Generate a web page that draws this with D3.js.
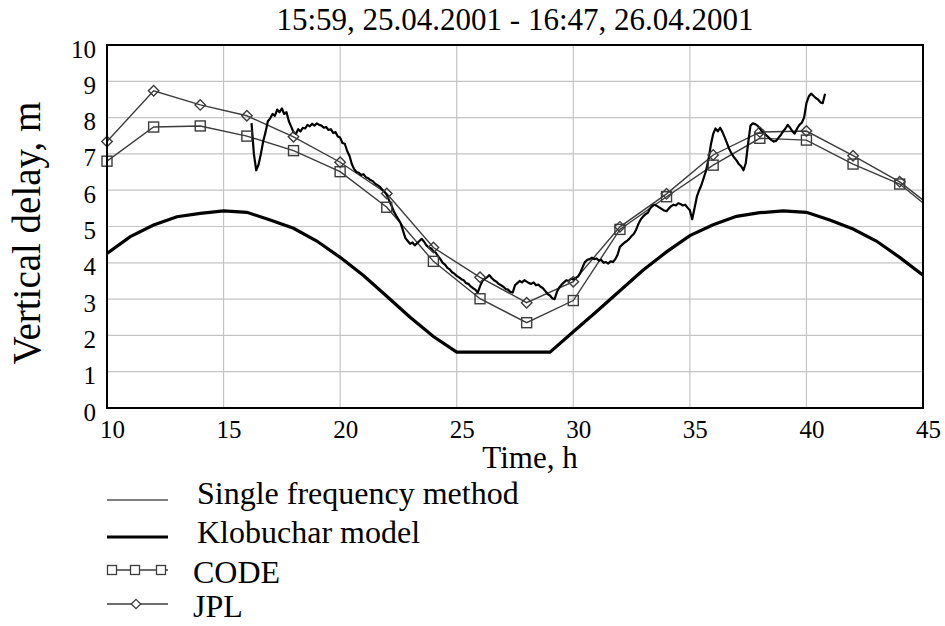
<!DOCTYPE html>
<html>
<head>
<meta charset="utf-8">
<script src="https://cdn.jsdelivr.net/npm/d3@7"></script>
<style>
  body { margin: 0; background: #fff; }
</style>
</head>
<body>
<div id="chart"></div>
<script>
const FONT = "'Liberation Serif', 'Times New Roman', Times, serif";
const margin = { top: 45, right: 22, bottom: 218, left: 107 };
const W = 945, H = 626;

const titleText = "15:59, 25.04.2001 - 16:47, 26.04.2001";
const xTicks = [10, 15, 20, 25, 30, 35, 40, 45];
const yTicks = [0, 1, 2, 3, 4, 5, 6, 7, 8, 9, 10];

// Klobuchar model, hourly
const kloTime = [10, 11, 12, 13, 14, 15, 16, 17, 18, 19, 20, 21, 22, 23, 24, 25, 26, 27,
  28, 29, 30, 31, 32, 33, 34, 35, 36, 37, 38, 39, 40, 41, 42, 43, 44, 45];
const kloDelay = [4.26, 4.72, 5.04, 5.27, 5.36, 5.43, 5.39, 5.18, 4.95, 4.6, 4.15, 3.65, 3.08, 2.5, 1.97, 1.54, 1.54, 1.54,
  1.54, 1.54, 2.1, 2.66, 3.23, 3.8, 4.3, 4.75, 5.05, 5.28, 5.38, 5.43, 5.39, 5.18, 4.93, 4.6, 4.15, 3.66];

// global maps, every 2 h
const gimTime = [10, 12, 14, 16, 18, 20, 22, 24, 26, 28, 30, 32, 34, 36, 38, 40, 42, 44, 46];
const codeDelay = [6.80, 7.74, 7.77, 7.49, 7.09, 6.51, 5.53, 4.04, 3.01, 2.35, 2.96, 4.92, 5.82, 6.69, 7.43, 7.38, 6.72, 6.17, 5.13];
const jplDelay = [7.34, 8.74, 8.35, 8.05, 7.47, 6.77, 5.91, 4.42, 3.6, 2.9, 3.48, 4.99, 5.9, 6.97, 7.6, 7.63, 6.95, 6.23, 5.23];

// single frequency method, sampled every 0.1 h from 16.2 h
const sfStart = 16.2, sfStep = 0.1;
const sfDelay = [
  7.85, 7.0, 6.55, 6.7, 7.0, 7.35, 7.6, 7.9, 7.98, 8.1,
  8.05, 8.22, 8.15, 8.25, 8.1, 8.15, 7.9, 7.75, 7.6, 7.55,
  7.68, 7.62, 7.72, 7.7, 7.8, 7.76, 7.83, 7.78, 7.84, 7.8,
  7.78, 7.72, 7.74, 7.66, 7.68, 7.58, 7.6, 7.48, 7.45, 7.3,
  7.28, 7.08, 6.95, 6.72, 6.58, 6.5, 6.48, 6.42, 6.44, 6.36,
  6.33, 6.28, 6.25, 6.18, 6.14, 6.1, 6.02, 5.96, 5.87, 5.72,
  5.58, 5.42, 5.3, 5.2, 5.08, 4.88, 4.68, 4.6, 4.52, 4.56,
  4.48, 4.54, 4.6, 4.66, 4.58, 4.48, 4.42, 4.4, 4.32, 4.28,
  4.18, 4.1, 4.0, 3.95, 3.86, 3.82, 3.74, 3.7, 3.64, 3.6,
  3.55, 3.52, 3.44, 3.42, 3.35, 3.3, 3.26, 3.18, 3.35, 3.5,
  3.56, 3.6, 3.66, 3.58, 3.52, 3.48, 3.42, 3.38, 3.34, 3.28,
  3.26, 3.2, 3.18, 3.38, 3.44, 3.5, 3.46, 3.52, 3.48, 3.44,
  3.42, 3.46, 3.38, 3.4, 3.34, 3.3, 3.22, 3.14, 3.1, 3.02,
  3.0, 3.2, 3.32, 3.4, 3.46, 3.52, 3.5, 3.56, 3.54, 3.58,
  3.62, 3.72, 3.88, 4.02, 4.08, 4.1, 4.14, 4.1, 4.12, 4.06,
  4.08, 4.0, 4.02, 3.98, 4.04, 4.02, 4.1, 4.22, 4.44, 4.5,
  4.56, 4.6, 4.66, 4.74, 4.8, 4.92, 5.08, 5.2, 5.28, 5.34,
  5.38, 5.5, 5.58, 5.6, 5.56, 5.52, 5.48, 5.44, 5.42, 5.5,
  5.56, 5.6, 5.58, 5.64, 5.62, 5.58, 5.6, 5.52, 5.45, 5.2,
  5.5, 5.82, 6.0, 6.15, 6.35, 6.55, 6.85, 7.25, 7.55, 7.7,
  7.62, 7.72, 7.6, 7.45, 7.28, 7.12, 7.0, 6.9, 6.82, 6.72,
  6.66, 6.55, 6.75, 7.3, 7.78, 7.84, 7.82, 7.78, 7.7, 7.62,
  7.56, 7.5, 7.44, 7.38, 7.34, 7.36, 7.44, 7.52, 7.62, 7.7,
  7.8, 7.72, 7.62, 7.56, 7.7, 7.8, 7.86, 8.0, 8.4, 8.58,
  8.66, 8.6, 8.54, 8.5, 8.42, 8.4, 8.66
];

const legendLabels = ["Single frequency method", "Klobuchar model", "CODE", "JPL"];

const width = W - margin.left - margin.right;   // 816
const height = H - margin.top - margin.bottom;  // 363

const svg = d3.select("#chart").append("svg")
  .attr("width", W)
  .attr("height", H)
  .attr("font-family", FONT)
  .style("display", "block");

svg.append("rect").attr("width", W).attr("height", H).attr("fill", "#fff");

const g = svg.append("g")
  .attr("transform", `translate(${margin.left},${margin.top})`);

const x = d3.scaleLinear().domain([10, 45]).range([0, width]);
const y = d3.scaleLinear().domain([0, 10]).range([height, 0]);

// grid
g.append("g")
  .selectAll("line")
  .data(xTicks.slice(1, -1))
  .join("line")
  .attr("x1", d => x(d)).attr("x2", d => x(d))
  .attr("y1", 0).attr("y2", height)
  .attr("stroke", "#c4c4c4").attr("stroke-width", 1.2);

g.append("g")
  .selectAll("line")
  .data(yTicks.slice(1, -1))
  .join("line")
  .attr("x1", 0).attr("x2", width)
  .attr("y1", d => y(d)).attr("y2", d => y(d))
  .attr("stroke", "#c4c4c4").attr("stroke-width", 1.2);

// axes (labels only)
const xAxis = g.append("g")
  .attr("transform", `translate(0,${height})`)
  .call(d3.axisBottom(x).tickValues(xTicks).tickSize(0).tickFormat(d3.format("d")))
  .attr("font-family", FONT);
xAxis.select(".domain").remove();
xAxis.selectAll("text")
  .attr("font-size", 25)
  .attr("fill", "#000")
  .attr("y", 30).attr("dy", 0).attr("dx", 5);

const yAxis = g.append("g")
  .call(d3.axisLeft(y).tickValues(yTicks).tickSize(0).tickFormat(d3.format("d")))
  .attr("font-family", FONT);
yAxis.select(".domain").remove();
yAxis.selectAll("text")
  .attr("font-size", 25)
  .attr("fill", "#000")
  .attr("x", -11).attr("dy", 0).attr("y", 12);

// clip
svg.append("defs").append("clipPath").attr("id", "plotClip")
  .append("rect").attr("width", width).attr("height", height);

const plot = g.append("g").attr("clip-path", "url(#plotClip)");

const line = d3.line().x(d => x(d[0])).y(d => y(d[1]));

const kloData = kloTime.map((t, i) => [t, kloDelay[i]]);
const codeData = gimTime.map((t, i) => [t, codeDelay[i]]);
const jplData = gimTime.map((t, i) => [t, jplDelay[i]]);
const sfData = sfDelay.map((v, i) => [sfStart + i * sfStep, v]);

plot.append("path").datum(kloData)
  .attr("d", line).attr("fill", "none")
  .attr("stroke", "#000").attr("stroke-width", 3.2);

plot.append("path").datum(codeData)
  .attr("d", line).attr("fill", "none")
  .attr("stroke", "#3c3c3c").attr("stroke-width", 1.4);

plot.append("path").datum(jplData)
  .attr("d", line).attr("fill", "none")
  .attr("stroke", "#3c3c3c").attr("stroke-width", 1.4);

plot.append("path").datum(sfData)
  .attr("d", line).attr("fill", "none")
  .attr("stroke", "#000").attr("stroke-width", 2.2)
  .attr("stroke-linejoin", "round");

// markers
const sq = 10;
g.append("g").selectAll("rect")
  .data(codeData.filter(d => d[0] <= 45))
  .join("rect")
  .attr("x", d => x(d[0]) - sq / 2)
  .attr("y", d => y(d[1]) - sq / 2)
  .attr("width", sq).attr("height", sq)
  .attr("fill", "none").attr("stroke", "#3c3c3c").attr("stroke-width", 1.4);

const diamond = d3.symbol().type(d3.symbolDiamond2).size(70);
g.append("g").selectAll("path")
  .data(jplData.filter(d => d[0] <= 45))
  .join("path")
  .attr("d", diamond)
  .attr("transform", d => `translate(${x(d[0])},${y(d[1])})`)
  .attr("fill", "none").attr("stroke", "#3c3c3c").attr("stroke-width", 1.4);

// frame
g.append("rect")
  .attr("width", width).attr("height", height)
  .attr("fill", "none").attr("stroke", "#000").attr("stroke-width", 2);

// title and axis labels
svg.append("text")
  .attr("x", 515).attr("y", 30)
  .attr("text-anchor", "middle")
  .attr("font-size", 31)
  .text(titleText);

svg.append("text")
  .attr("x", 530).attr("y", 468)
  .attr("text-anchor", "middle")
  .attr("font-size", 31)
  .text("Time, h");

svg.append("text")
  .attr("transform", "translate(40,233) rotate(-90)")
  .attr("text-anchor", "middle")
  .attr("font-size", 39)
  .text("Vertical delay, m");

// legend
const lx0 = 107, lx1 = 168;
const legend = svg.append("g");
const legendRows = [
  { y: 500, tx: 197, ty: 504 },
  { y: 537, tx: 197, ty: 543 },
  { y: 570, tx: 193, ty: 583 },
  { y: 604, tx: 193, ty: 617 }
];

legend.append("line")
  .attr("x1", lx0).attr("x2", lx1).attr("y1", legendRows[0].y).attr("y2", legendRows[0].y)
  .attr("stroke", "#000").attr("stroke-width", 1.2);
legend.append("line")
  .attr("x1", lx0).attr("x2", lx1).attr("y1", legendRows[1].y).attr("y2", legendRows[1].y)
  .attr("stroke", "#000").attr("stroke-width", 3.2);
legend.append("line")
  .attr("x1", lx0).attr("x2", lx1).attr("y1", legendRows[2].y).attr("y2", legendRows[2].y)
  .attr("stroke", "#3c3c3c").attr("stroke-width", 1.3);
legend.selectAll("rect")
  .data([112, 135, 161])
  .join("rect")
  .attr("x", d => d - 4.5).attr("y", legendRows[2].y - 4.5)
  .attr("width", 9).attr("height", 9)
  .attr("fill", "#fff").attr("stroke", "#3c3c3c").attr("stroke-width", 1.3);
legend.append("line")
  .attr("x1", lx0).attr("x2", lx1).attr("y1", legendRows[3].y).attr("y2", legendRows[3].y)
  .attr("stroke", "#3c3c3c").attr("stroke-width", 1.3);
legend.append("path")
  .attr("d", d3.symbol().type(d3.symbolDiamond2).size(55))
  .attr("transform", `translate(136,${legendRows[3].y})`)
  .attr("fill", "#fff").attr("stroke", "#3c3c3c").attr("stroke-width", 1.3);

legend.selectAll("text")
  .data(legendLabels)
  .join("text")
  .attr("x", (d, i) => legendRows[i].tx)
  .attr("y", (d, i) => legendRows[i].ty)
  .attr("font-size", 32)
  .text(d => d);
</script>
</body>
</html>
